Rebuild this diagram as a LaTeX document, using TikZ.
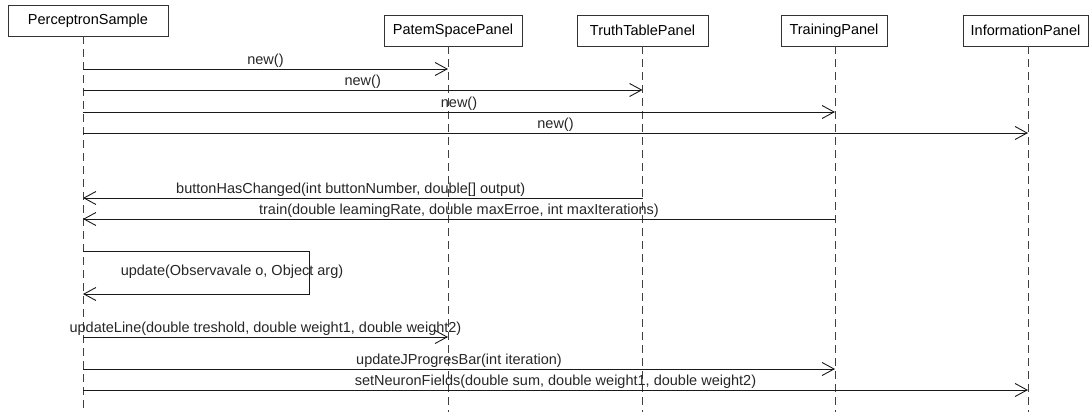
\documentclass[tikz,border=0pt]{standalone}
\usepackage{fontspec}
\setmainfont{Liberation Sans}
\usepackage{tikz}
\usetikzlibrary{calc, positioning, arrows.meta}
\tikzset{lifeline head/.style={draw=black!80, rectangle, minimum height=31pt, inner sep=0pt, font=\fontsize{14.5}{16}\selectfont}}
\tikzset{lifeline/.style={draw=black!75, dash pattern=on 8pt off 5pt, line width=0.9pt}}
\tikzset{message/.style={draw=black!90, line width=0.9pt, -{Straight Barb[length=12pt,width=13pt]}}}
\tikzset{message label/.style={above, inner sep=1.5pt, font=\fontsize{14.5}{16}\selectfont, text=black!85}}

\begin{document}
\begin{tikzpicture}[x=1pt, y=-1pt]
\useasboundingbox (0,0) rectangle (1089,414);
\node[lifeline head, minimum width=160pt] (ps) at (88,20.5) {PerceptronSample};
\node[lifeline head, minimum width=138pt] (psp) at (453,30.5) {PatemSpacePanel};
\node[lifeline head, minimum width=131pt] (ttp) at (642.5,30.5) {TruthTablePanel};
\node[lifeline head, minimum width=106pt] (tp) at (834,30.5) {TrainingPanel};
\node[lifeline head, minimum width=125pt] (ip) at (1025.5,30.5) {InformationPanel};
\foreach \n/\dx in {ps/-5, psp/-5, ttp/0, tp/1, ip/2.5} {
  \coordinate (\n-l) at ([xshift=\dx pt]\n.south);
  \coordinate (\n-end) at (\n-l |- 0,412);
  \draw[lifeline] (\n-l) -- (\n-end);
}
% creation
\draw[message] (ps-l |- 0,69) to node[message label] {new()} (psp-l |- 0,69);
\draw[message] (ps-l |- 0,90) to node[message label] {new()} (ttp-l |- 0,90);
\draw[message] (ps-l |- 0,112) to node[message label] {new()} (tp-l |- 0,112);
\draw[message] (ps-l |- 0,133) to node[message label] {new()} (ip-l |- 0,133);
% callbacks
\draw[message] (ttp-l |- 0,198) to node[message label, xshift=-12pt] {buttonHasChanged(int buttonNumber, double[] output)} (ps-l |- 0,198);
\draw[message] (tp-l |- 0,219) to node[message label] {train(double leamingRate, double maxErroe, int maxIterations)} (ps-l |- 0,219);
% self call
\draw[message] (ps-l |- 0,251) -- (309,251) -- (309,294) -- (ps-l |- 0,294);
\node[message label, anchor=center] (upd) at (232,272) {update(Observavale o, Object arg)};
% updates
\draw[message] (ps-l |- 0,337) to node[message label] {updateLine(double treshold, double weight1, double weight2)} (psp-l |- 0,337);
\draw[message] (ps-l |- 0,369) to node[message label] {updateJProgresBar(int iteration)} (tp-l |- 0,369);
\draw[message] (ps-l |- 0,390) to node[message label] {setNeuronFields(double sum, double weight1, double weight2)} (ip-l |- 0,390);
\end{tikzpicture}
\end{document}
